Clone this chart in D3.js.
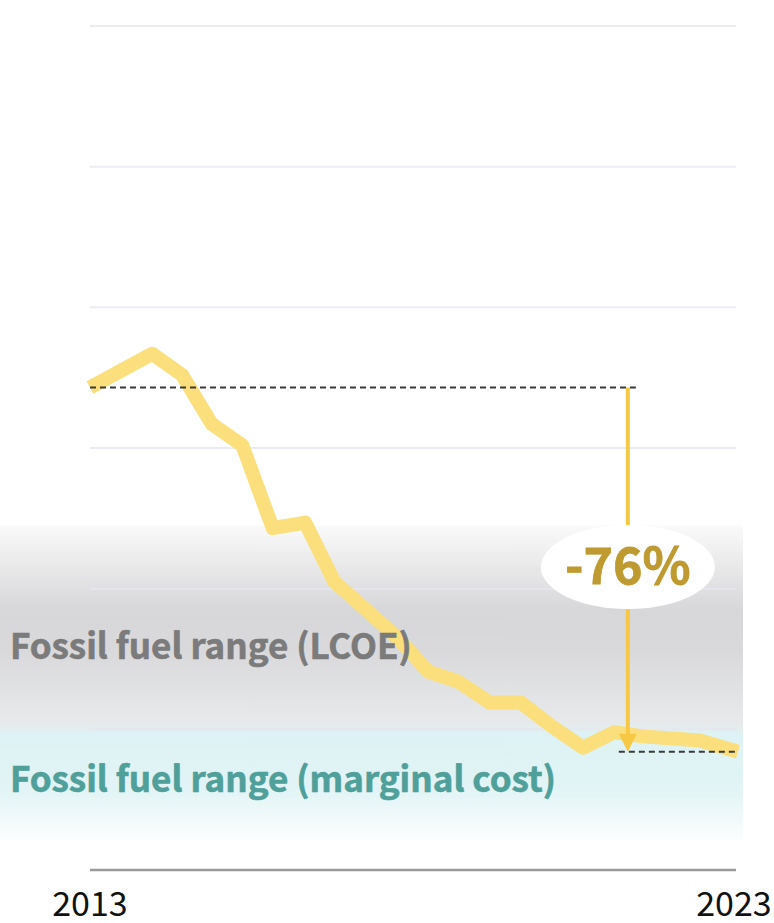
<!DOCTYPE html>
<html><head><meta charset="utf-8">
<script src="https://cdn.jsdelivr.net/npm/d3@7"></script>
<style>
html,body{margin:0;padding:0;background:#fff;}
svg{display:block;font-family:"Noto Sans CJK SC","Source Sans Pro","Noto Sans",sans-serif;}
</style></head>
<body>
<svg id="chart" width="774" height="923"></svg>
<script>
// ---- data ----
const years = [2013.00, 2013.96, 2014.42, 2014.88, 2015.35, 2015.82, 2016.32, 2016.77, 2017.26, 2017.75,
               2018.22, 2018.68, 2019.17, 2019.65, 2020.13, 2020.61, 2021.09, 2021.53, 2022.41, 2023.00];
const costs = [3.43, 3.67, 3.52, 3.17, 3.02, 2.43, 2.47, 2.05, 1.85, 1.65,
               1.41, 1.34, 1.19, 1.19, 1.02, 0.87, 0.98, 0.95, 0.92, 0.84];
const gridValues = [1, 2, 3, 4, 5, 6];
const tickYears = [2013, 2023];
const tickLabels = ["2013", "2023"];
const changeLabel = "-76%";
const arrowYear = 2021.3;
const lcoeBand = [1.0, 2.45];      // fossil fuel range (LCOE)
const marginalBand = [0.21, 1.0];  // fossil fuel range (marginal cost)
const bandLabels = ["Fossil fuel range (LCOE)", "Fossil fuel range (marginal cost)"];

// ---- chart ----
const svg = d3.select("#chart");
const x = d3.scaleLinear().domain([2013, 2023]).range([90, 738]);
const y = d3.scaleLinear().domain([0, 6]).range([870, 26]);

const defs = svg.append("defs");
const g1 = defs.append("linearGradient").attr("id","band").attr("x1",0).attr("x2",0).attr("y1",0).attr("y2",1);
const bandTop = y(lcoeBand[1]), bandBot = y(marginalBand[0]), split = y(lcoeBand[0]);
const f = v => (v - bandTop) / (bandBot - bandTop);
[[0,"#fafafa"],[f(bandTop+40),"#e9e9ea"],[f(bandTop+85),"#d7d7da"],[f(bandTop+125),"#d9d9dc"],
 [f(split-8),"#e7e9ea"],[f(split),"#e3eeef"],[f(split+4),"#ddf2f4"],[f(split+60),"#e2f4f5"],[1,"#fcfefe"]]
 .forEach(([o,c]) => g1.append("stop").attr("offset", o).attr("stop-color", c));

svg.append("rect").attr("x", 0).attr("y", bandTop).attr("width", 743).attr("height", bandBot - bandTop)
   .attr("fill", "url(#band)");

// gridlines
svg.append("g").selectAll("line").data(gridValues).join("line")
  .attr("x1", x(2013)).attr("x2", 736).attr("y1", d => y(d)).attr("y2", d => y(d))
  .attr("stroke", "#e6e6f0").attr("stroke-opacity", 0.8).attr("stroke-width", 2);

// baseline axis
svg.append("line").attr("x1", x(2013)).attr("x2", 736).attr("y1", y(0)).attr("y2", y(0))
  .attr("stroke", "#9a9a9a").attr("stroke-width", 2.5);

// x tick labels
svg.append("g").selectAll("text").data(tickYears).join("text")
  .attr("x", d => Math.min(x(d), 734)).attr("y", 916).attr("text-anchor", "middle")
  .attr("font-size", 34).attr("fill", "#111").text((d,i) => tickLabels[i]);

// main line
const line = d3.line().x((d,i) => x(years[i])).y(d => y(d));
svg.append("path").datum(costs).attr("d", line).attr("fill", "none")
  .attr("stroke", "#fadf7c").attr("stroke-width", 14).attr("stroke-linejoin", "round");

// band labels
svg.append("text").attr("x", 10).attr("y", 659).attr("font-size", 35).attr("font-weight", 700)
  .attr("fill", "#7b7b7b").attr("stroke", "#7b7b7b").attr("stroke-width", 0.6).text(bandLabels[0]);
svg.append("text").attr("x", 10).attr("y", 792).attr("font-size", 35).attr("font-weight", 700)
  .attr("fill", "#4f9f9b").attr("stroke", "#4f9f9b").attr("stroke-width", 0.6).text(bandLabels[1]);

// dashed reference lines
const startV = costs[0], endV = costs[costs.length - 1];
svg.append("line").attr("x1", x(2013)).attr("x2", x(arrowYear) + 8).attr("y1", y(startV)).attr("y2", y(startV))
  .attr("stroke", "#3a3a3a").attr("stroke-width", 2).attr("stroke-dasharray", "6,4");
svg.append("line").attr("x1", x(arrowYear) - 9).attr("x2", x(2023)).attr("y1", y(endV)).attr("y2", y(endV))
  .attr("stroke", "#3a3a3a").attr("stroke-width", 2).attr("stroke-dasharray", "6,4");

// arrow
const ax = x(arrowYear);
svg.append("line").attr("x1", ax).attr("x2", ax).attr("y1", y(startV)).attr("y2", y(endV) - 14)
  .attr("stroke", "#f7c844").attr("stroke-width", 4);
svg.append("path")
  .attr("d", `M${ax-9},${y(endV)-18} L${ax+9},${y(endV)-18} L${ax},${y(endV)} Z`)
  .attr("fill", "#f7c844");

// label bubble
const bubbleY = 567;
svg.append("ellipse").attr("cx", ax).attr("cy", bubbleY).attr("rx", 87).attr("ry", 42).attr("fill", "#fff");
svg.append("text").attr("x", ax).attr("y", bubbleY + 17).attr("text-anchor", "middle")
  .attr("font-size", 50).attr("font-weight", 700).attr("fill", "#bf9a31")
  .attr("stroke", "#bf9a31").attr("stroke-width", 0.8).text(changeLabel);
</script>
</body></html>
